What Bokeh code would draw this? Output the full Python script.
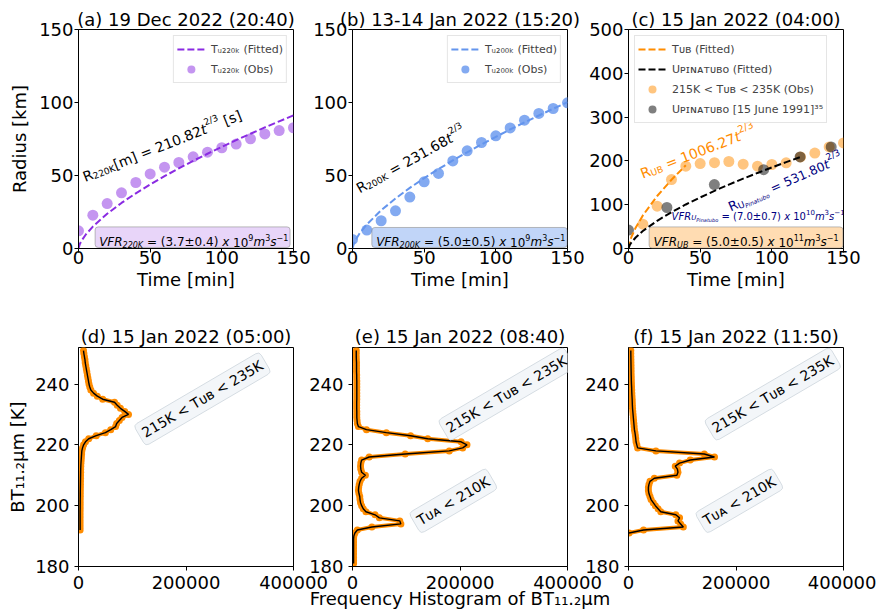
import math
from bokeh.plotting import figure
from bokeh.models import (Range1d, FixedTicker, NumeralTickFormatter, Label, Legend,
                          LegendItem, BoxAnnotation)
from bokeh.layouts import row, column
from bokeh.embed import file_html
from bokeh.resources import INLINE

FONT = "DejaVu Sans"

# ------------------------------------------------------------------ data
# top row: radius growth [km] vs time [min]
time_obs = [0, 10, 20, 30, 40, 50, 60, 70, 80, 90, 100, 110, 120, 130, 140, 150]
r220_obs = [12.1, 22.8, 30.8, 38.1, 45.2, 51.1, 55.7, 58.9, 62.8, 66.0, 69.0, 71.5, 75.1, 78.5, 80.8, 82.7]
r200_obs = [6.2, 12.6, 19.0, 25.8, 35.2, 45.7, 51.4, 60.0, 66.9, 72.6, 77.2, 82.6, 87.9, 92.5, 95.9, 99.8]

fit_t = [0, 1, 2, 5, 10, 20, 30, 40, 50, 60, 70, 80, 90, 100, 110, 120, 130, 140, 150]
fit220 = [0, 3.23, 5.13, 9.45, 15.00, 23.81, 31.20, 37.79, 43.85, 49.52, 54.88, 59.99, 64.89,
          69.61, 74.19, 78.61, 82.91, 87.11, 91.22]
fit200 = [0, 3.55, 5.64, 10.38, 16.48, 26.16, 34.28, 41.53, 48.19, 54.42, 60.31, 65.92, 71.31,
          76.50, 81.53, 86.39, 91.11, 95.73, 100.24]

ub_obs_t = [10, 20, 30, 40, 50, 60, 70, 80, 90, 100, 110, 120, 130, 140, 150]
ub_obs = [55.5, 96.7, 157.5, 188.0, 194.0, 196.0, 198.6, 192.5, 188.0, 191.8, 195.6, 209.0, 218.0, 232.0, 241.0]
pin_obs_t = [0, 26.8, 59.9, 94.3, 119.7, 141.4]
pin_obs = [42.0, 93.6, 146.0, 180.0, 209.0, 232.0]

ub_fit_t = [0, 1, 2, 5, 10, 20, 30, 40]
ub_fit = [0, 16.3, 25.8, 47.5, 75.5, 119.8, 156.9, 190.1]
pin_fit_t = [0, 1, 2, 5, 10, 20, 30, 40, 50, 60, 70, 80, 90, 100, 110, 120]
pin_fit = [0, 8.6, 13.6, 25.1, 39.9, 63.3, 82.9, 100.5, 116.6, 131.7, 145.9, 159.5, 172.5, 185.1, 197.2, 209.0]

# bottom row: histogram of BT 11.2um [K] (frequency)
bt_d = list(range(192, 252))
freq_d = [3000, 3000, 3000, 3000, 3000, 3000, 3000, 3100, 3100, 3200,
          3200, 3300, 3300, 3400, 3500, 3600, 3700, 3800, 3900, 4000,
          4100, 4300, 4600, 5000, 5400, 5800, 6200, 7500, 9500, 13000,
          19000, 33000, 50000, 60000, 69000, 71000, 76000, 81000, 93000, 86000,
          78000, 72000, 67000, 45000, 35000, 28000, 23000, 21000, 19500, 18500,
          17500, 16500, 15500, 14500, 13500, 12500, 12000, 11000, 10000, 9300]

bt_e = list(range(181, 252))
freq_e = [2000, 2000, 2000, 2000, 2000, 2000, 2000, 2000, 2000, 2500,
          4500, 9000, 36000, 90000, 88000, 50000, 42000, 25000, 20000, 17000,
          15000, 14000, 13500, 12000, 11000, 11500, 12500, 14000, 17000, 24000,
          17000, 15500, 15000, 15500, 17000, 31000, 98000, 180000, 205000, 213000,
          202000, 140000, 108000, 63000, 26000, 11000, 9000, 8500, 8000, 8000,
          8000, 7800, 7800, 7800, 8000, 8000, 8000, 8000, 8000, 8000,
          8000, 7800, 7800, 7500, 7500, 7500, 7500, 7200, 7000, 7000, 7000]

bt_f = list(range(191, 252))
freq_f = [1000, 28000, 102000, 97000, 92000, 95000, 88000, 60000, 55000, 50000,
          46000, 42000, 40000, 38000, 37000, 37000, 38000, 40000, 48000, 90000,
          92000, 91000, 87000, 95000, 115000, 160000, 141000, 51000, 17000, 15500,
          14000, 13500, 12800, 12000, 11000, 10500, 10000, 9500, 9000, 8500,
          8000, 7500, 7200, 7000, 6800, 6500, 6200, 6000, 5800, 5500,
          5300, 5200, 5000, 4900, 4800, 4700, 4600, 4500, 4400, 4300, 4300]

top_ticks = [0, 50, 100, 150]
c_yticks = [0, 100, 200, 300, 400, 500]
hist_xticks = [0, 200000, 400000]
hist_yticks = [180, 200, 220, 240]

# ------------------------------------------------------------------ helpers
W = {' ': .318, '.': .318, '=': .838, '±': .838, '−': .838, '(': .39, ')': .39, '[': .39,
     ']': .39, '/': .337, '<': .838, 'μ': .636,
     'A': .684, 'B': .686, 'C': .698, 'D': .770, 'E': .632, 'F': .575, 'G': .775, 'H': .752,
     'I': .295, 'J': .295, 'K': .656, 'L': .557, 'M': .863, 'N': .748, 'O': .787, 'P': .603,
     'Q': .787, 'R': .695, 'S': .635, 'T': .611, 'U': .732, 'V': .684, 'W': .989, 'X': .685,
     'Y': .611, 'Z': .685, 'a': .613, 'b': .635, 'c': .55, 'd': .635, 'e': .615, 'f': .352,
     'g': .635, 'h': .634, 'i': .278, 'j': .278, 'k': .579, 'l': .278, 'm': .974, 'n': .634,
     'o': .612, 'p': .635, 'q': .635, 'r': .411, 's': .521, 't': .392, 'u': .634, 'v': .592,
     'w': .818, 'x': .592, 'y': .592, 'z': .525}
for _d in "0123456789":
    W[_d] = .636


def tw(s):
    return sum(W.get(ch, 0.6) for ch in s)


def rich(p, x, y, segs, angle=0.0, color="black", align="left"):
    total = sum(tw(t) * sz for t, sz, dy, st in segs)
    adv = 0.0 if align == "left" else (-total / 2 if align == "center" else -total)
    ca, sa = math.cos(angle), math.sin(angle)
    for t, sz, dy, st in segs:
        lead = len(t) - len(t.lstrip(" "))
        a0 = adv + W[' '] * sz * lead
        ox = a0 * ca - dy * sa
        oy = a0 * sa + dy * ca
        p.add_layout(Label(x=x, y=y, x_offset=ox, y_offset=oy, angle=angle, text=t.strip(" "),
                           text_font=FONT, text_font_size=f"{sz}px", text_font_style=st,
                           text_color=color, text_align="left", text_baseline="alphabetic"))
        adv += tw(t) * sz


def mkfig(xr, yr, w, h, bl, br, bt, bb, xticks, yticks, xs, ys, title, tstand, xfmt=None):
    p = figure(width=w, height=h, x_range=Range1d(*xr), y_range=Range1d(*yr),
               output_backend="svg", toolbar_location=None,
               min_border_left=bl, min_border_right=br, min_border_top=bt, min_border_bottom=bb)
    p.border_fill_alpha = 0
    p.background_fill_color = "white"
    p.outline_line_color = "black"
    p.outline_line_alpha = 1
    p.outline_line_width = 1
    p.xgrid.visible = False
    p.ygrid.visible = False
    p.title.text = title
    p.title.text_font = FONT
    p.title.text_font_size = "18px"
    p.title.text_font_style = "normal"
    p.title.text_color = "black"
    p.title.align = "center"
    p.title.standoff = tstand
    for ax, ticks, so in ((p.xaxis[0], xticks, xs), (p.yaxis[0], yticks, ys)):
        ax.ticker = FixedTicker(ticks=ticks, minor_ticks=[])
        ax.major_label_text_font = FONT
        ax.major_label_text_font_size = "18px"
        ax.major_label_text_color = "black"
        ax.axis_line_color = "black"
        ax.major_tick_line_color = "black"
        ax.major_tick_in = 0
        ax.major_tick_out = 4
        ax.minor_tick_line_color = None
        ax.major_label_standoff = so
        ax.axis_label_text_font = FONT
        ax.axis_label_text_font_size = "18px"
        ax.axis_label_text_font_style = "normal"
        ax.axis_label_text_color = "black"
    if xfmt is not None:
        p.xaxis[0].formatter = xfmt
    return p


def add_legend(p, items, loc):
    lg = Legend(items=[LegendItem(label=l, renderers=[r]) for l, r in items], location=loc,
                label_text_font=FONT, label_text_font_size="11px", glyph_width=28,
                glyph_height=20, label_height=20, label_standoff=6, padding=3, spacing=-2,
                margin=6, border_line_color="#cccccc", border_line_width=1,
                background_fill_alpha=0.8)
    p.add_layout(lg)


def vfr_box(p, l, r, b, t, color, alpha):
    p.add_layout(BoxAnnotation(left=l, right=r, bottom=b, top=t, fill_color=color,
                               fill_alpha=alpha, line_color="#8f8f8f", line_alpha=0.6,
                               line_width=1, border_radius=3))


def box_label(p, x, y, text):
    p.add_layout(Label(x=x, y=y, text=text, angle=0.53, text_align="center",
                       text_baseline="middle", text_font=FONT, text_font_size="14px",
                       text_color="black", background_fill_color="#f3f6f9",
                       background_fill_alpha=1, border_line_color="#d5dce2",
                       border_line_alpha=1, padding=4, border_radius=4))


def time_label(p):
    p.xaxis[0].axis_label = "Time [min]"
    p.xaxis[0].axis_label_standoff = 2


DASH = "7 3"
R1_H, R2_H = 300, 313
XS1, XS2 = -2, 5
YS1, YS2 = 1, 5

# ------------------------------------------------------------------ (a)
pa = mkfig((0, 150), (0, 150), 330, R1_H, 78, 37, 29, 52, top_ticks, top_ticks, XS1, YS1,
           "(a) 19 Dec 2022 (20:40)", 0)
sa_ = pa.scatter(time_obs, r220_obs, size=11, fill_color="blueviolet", fill_alpha=0.5, line_color=None)
la_ = pa.line(fit_t, fit220, line_color="blueviolet", line_width=2, line_dash=DASH)
add_legend(pa, [("Tᵤ₂₂₀ₖ (Fitted)", la_), ("Tᵤ₂₂₀ₖ (Obs)", sa_)], "top_right")
vfr_box(pa, 11.6, 147.6, 0.7, 14.8, "blueviolet", 0.2)
rich(pa, 14.4, 4.3, [("VFR", 12, 0, "italic"), ("220K", 8, -3, "italic"),
                     (" = (3.7±0.4) ", 12, 0, "normal"), ("x", 12, 0, "italic"),
                     (" 10", 12, 0, "normal"), ("9", 8, 5, "normal"), ("m", 12, 0, "italic"),
                     ("3", 8, 5, "normal"), ("s", 12, 0, "italic"), ("−1", 8, 5, "normal")])
rich(pa, 3.35, 48.8, [("R", 14, 0, "normal"), ("220K", 9, -3, "normal"), ("[m] = 210.82", 14, 0, "normal"),
                      ("t", 14, 0, "italic"), ("2/3", 9, 6, "normal"), (" [s]", 14, 0, "normal")],
     angle=0.379)
time_label(pa)
pa.yaxis[0].axis_label = "Radius [km]"
pa.yaxis[0].axis_label_standoff = 6

# ------------------------------------------------------------------ (b)
pb = mkfig((0, 150), (0, 150), 297, R1_H, 49, 33, 29, 52, top_ticks, top_ticks, XS1, YS1,
           "(b) 13-14 Jan 2022 (15:20)", 0)
sb_ = pb.scatter(time_obs, r200_obs, size=11, fill_color="cornflowerblue", fill_alpha=0.8, line_color=None)
lb_ = pb.line(fit_t, fit200, line_color="cornflowerblue", line_width=2, line_dash=DASH)
add_legend(pb, [("Tᵤ₂₀₀ₖ (Fitted)", lb_), ("Tᵤ₂₀₀ₖ (Obs)", sb_)], "top_right")
vfr_box(pb, 13.5, 149.8, 0.7, 14.4, "cornflowerblue", 0.4)
rich(pb, 16.5, 4.3, [("VFR", 12, 0, "italic"), ("200K", 8, -3, "italic"),
                     (" = (5.0±0.5) ", 12, 0, "normal"), ("x", 12, 0, "italic"),
                     (" 10", 12, 0, "normal"), ("9", 8, 5, "normal"), ("m", 12, 0, "italic"),
                     ("3", 8, 5, "normal"), ("s", 12, 0, "italic"), ("−1", 8, 5, "normal")])
rich(pb, 3.3, 40.6, [("R", 14, 0, "normal"), ("200K", 9, -3, "normal"), (" = 231.68", 14, 0, "normal"),
                     ("t", 14, 0, "italic"), ("2/3", 9, 6, "normal")], angle=0.506)
time_label(pb)
pb.margin = (0, 0, 0, -27)

# ------------------------------------------------------------------ (c)
pc = mkfig((0, 150), (0, 500), 299, R1_H, 51, 33, 29, 52, top_ticks, c_yticks, XS1, YS1,
           "(c) 15 Jan 2022 (04:00)", 0)
sco = pc.scatter(ub_obs_t, ub_obs, size=11, fill_color="darkorange", fill_alpha=0.5, line_color=None)
scg = pc.scatter(pin_obs_t, pin_obs, size=11, fill_color="black", fill_alpha=0.5, line_color=None)
lco = pc.line(ub_fit_t, ub_fit, line_color="darkorange", line_width=2, line_dash=DASH)
lcb = pc.line(pin_fit_t, pin_fit, line_color="black", line_width=2, line_dash=DASH)
add_legend(pc, [("Tᴜʙ (Fitted)", lco), ("Uᴘɪɴᴀᴛᴜʙᴏ (Fitted)", lcb),
                ("215K < Tᴜʙ < 235K (Obs)", sco), ("Uᴘɪɴᴀᴛᴜʙᴏ [15 June 1991]³⁵", scg)], "top_left")
vfr_box(pc, 14.4, 149.6, 0.8, 49.3, "darkorange", 0.3)
rich(pc, 17.5, 14.4, [("VFR", 12, 0, "italic"), ("UB", 8, -3, "italic"),
                      (" = (5.0±0.5) ", 12, 0, "normal"), ("x", 12, 0, "italic"),
                      (" 10", 12, 0, "normal"), ("11", 8, 5, "normal"), ("m", 12, 0, "italic"),
                      ("3", 8, 5, "normal"), ("s", 12, 0, "italic"), ("−1", 8, 5, "normal")])
rich(pc, 30.06, 73.7, [("VFR", 10, 0, "italic"), ("U", 7, -2, "italic"), ("Pinatubo", 5, -3.5, "italic"),
                       (" = (7.0±0.7) ", 10, 0, "normal"), ("x", 10, 0, "italic"),
                       (" 10", 10, 0, "normal"), ("10", 7, 4, "normal"), ("m", 10, 0, "italic"),
                       ("3", 7, 4, "normal"), ("s", 10, 0, "italic"), ("−1", 7, 4, "normal")],
     color="navy")
rich(pc, 8.6, 169.6, [("R", 14, 0, "normal"), ("UB", 9, -3, "normal"), (" = 1006.27", 14, 0, "normal"),
                      ("t", 14, 0, "italic"), ("2/3", 10, 6, "normal")], angle=0.372, color="darkorange")
rich(pc, 70.0, 94, [("R", 13, 0, "normal"), ("U", 9, -3, "normal"), ("Pinatubo", 6, -5, "italic"),
                    (" = 531.80", 12.5, 0, "normal"), ("t", 12.5, 0, "italic"), ("2/3", 9, 6, "normal")],
     angle=0.415, color="navy")
time_label(pc)
pc.margin = (0, 0, 0, -23)

# ------------------------------------------------------------------ bottom row
fmt = NumeralTickFormatter(format="0")


def hist(p, bt, fr):
    p.line(fr, bt, line_color="darkorange", line_width=4)
    p.scatter(fr, bt, size=7, fill_color="darkorange", line_color=None)
    p.line(fr, bt, line_color="black", line_width=1.4)


pd_ = mkfig((0, 400000), (180, 252), 330, R2_H, 78, 37, 47, 47, hist_xticks, hist_yticks, XS2, YS2,
            "(d) 15 Jan 2022 (05:00)", 2, fmt)
hist(pd_, bt_d, freq_d)
box_label(pd_, 230600, 235.1, "215K < Tᴜʙ < 235K")
pd_.yaxis[0].axis_label = "BT₁₁.₂μm [K]"
pd_.yaxis[0].axis_label_standoff = 4

pe_ = mkfig((0, 400000), (180, 252), 330, R2_H, 49, 66, 47, 47, hist_xticks, hist_yticks, XS2, YS2,
            "(e) 15 Jan 2022 (08:40)", 2, fmt)
hist(pe_, bt_e, freq_e)
box_label(pe_, 286700, 236.7, "215K < Tᴜʙ < 235K")
box_label(pe_, 187600, 201.6, "Tᴜᴀ < 210K")
pe_.xaxis[0].axis_label = "Frequency Histogram of BT₁₁.₂μm"
pe_.xaxis[0].axis_label_standoff = -4
pe_.margin = (0, 0, 0, -27)

pf_ = mkfig((0, 400000), (180, 252), 299, R2_H, 51, 33, 47, 47, hist_xticks, hist_yticks, XS2, YS2,
            "(f) 15 Jan 2022 (11:50)", 2, fmt)
hist(pf_, bt_f, freq_f)
box_label(pf_, 268400, 236.7, "215K < Tᴜʙ < 235K")
box_label(pf_, 206200, 201.6, "Tᴜᴀ < 210K")
pf_.margin = (0, 0, 0, -56)

layout = column(row(pa, pb, pc), row(pd_, pe_, pf_))

with open("out.html", "w") as fh:
    fh.write(file_html(layout, INLINE))
